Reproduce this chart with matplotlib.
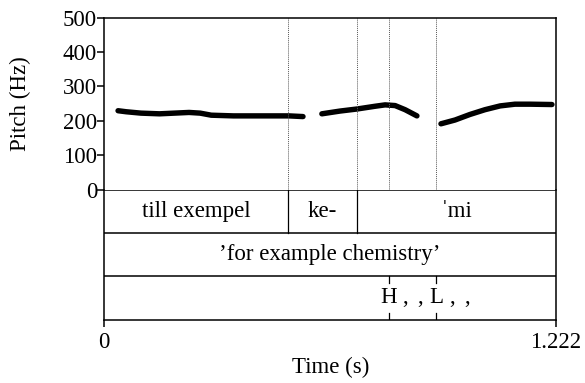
import matplotlib
matplotlib.use("Agg")
import matplotlib.pyplot as plt

plt.rcParams['font.family'] = ['Liberation Serif', 'DejaVu Serif']
plt.rcParams['font.size'] = 16.5

# Data
t_end = 1.222
seg1_t = [0.038, 0.06, 0.10, 0.15, 0.19, 0.23, 0.26, 0.29, 0.35, 0.40, 0.45, 0.50, 0.538]
seg1_f = [229, 226, 222, 220, 222, 224, 222, 216, 214, 214, 214, 214, 212]
seg2_t = [0.589, 0.638, 0.684, 0.733, 0.760, 0.787, 0.814, 0.846]
seg2_f = [220, 228, 234, 242, 246, 244, 232, 214]
seg3_t = [0.911, 0.949, 0.989, 1.030, 1.071, 1.111, 1.152, 1.211]
seg3_f = [191, 202, 218, 232, 243, 248, 248, 247]
segments = [(seg1_t, seg1_f), (seg2_t, seg2_f), (seg3_t, seg3_f)]

y_ticks = [0, 100, 200, 300, 400, 500]
x_ticks = [0, 1.222]
x_tick_labels = ["0", "1.222"]
tier1_bounds = [0.0, 0.497, 0.684, 1.222]
tier1_labels = ["till exempel", "ke-", "\u02c8mi"]
tier2_label = "\u2019for example chemistry\u2019"
point_times = [0.770, 0.898]
point_labels = ["H", "L"]
point_suffix = [",", ","]

W, H = 585, 383
fig = plt.figure(figsize=(W / 100, H / 100), dpi=100)

def fx(px):
    return px / W

def fy(py):
    return 1 - py / H

left, right = 104, 556
top, mid, bot = 17.5, 189.5, 319.5
ax = fig.add_axes([fx(left), fy(mid), fx(right - left), fy(top) - fy(mid)])
ax2 = fig.add_axes([fx(left), fy(bot), fx(right - left), fy(mid) - fy(bot)])

lw_axis = 1.1
for a in (ax, ax2):
    a.set_xlim(0, t_end)
    for s in a.spines.values():
        s.set_linewidth(lw_axis)

# Pitch panel
ax.set_ylim(0, 500)
for tt, ff in segments:
    ax.plot(tt, ff, color='black', lw=3.9, solid_capstyle='round', solid_joinstyle='round')
for b in tier1_bounds[1:-1] + point_times:
    ax.axvline(b, color='0.35', lw=0.7, linestyle=(0, (1, 1)))
ax.set_yticks(y_ticks)
ax.set_yticklabels([str(v) for v in y_ticks])
ax.set_xticks([])
ax.tick_params(axis='y', direction='out', length=5, width=lw_axis, pad=0)
ax.spines['bottom'].set_visible(False)
fig.text(fx(20), fy(103.5), "Pitch (Hz)", rotation=90, ha='center', va='center')

# Tier panel
ax2.set_ylim(0, 3)
ax2.set_yticks([])
for yv in (1, 2, 3):
    ax2.axhline(yv, color='black', lw=lw_axis)
for b in tier1_bounds[1:-1]:
    ax2.plot([b, b], [2, 3], color='black', lw=0.9)
for i, lab in enumerate(tier1_labels):
    xc = (tier1_bounds[i] + tier1_bounds[i + 1]) / 2
    ax2.text(xc, 2.5, lab, ha='center', va='center')
ax2.text(t_end / 2, 1.5, tier2_label, ha='center', va='center')
comma_offsets = [11.5, 22.3]
for tp, lab in zip(point_times, point_labels):
    ax2.plot([tp, tp], [0.0, 0.16], color='black', lw=0.9)
    ax2.plot([tp, tp], [0.84, 1.0], color='black', lw=0.9)
    ax2.text(tp, 0.5, lab, ha='center', va='center')
    for suf, off in zip(point_suffix, comma_offsets):
        ax2.annotate(suf, xy=(tp, 0.5), xytext=(off, 0), textcoords='offset points',
                     ha='center', va='center')
ax2.spines['top'].set_visible(False)
ax2.set_xticks(x_ticks)
ax2.set_xticklabels(x_tick_labels)
ax2.tick_params(axis='x', direction='out', length=5, width=lw_axis, pad=4)
fig.text(fx(331), fy(367), "Time (s)", ha='center', va='center')

fig.savefig("out.png", dpi=100)
